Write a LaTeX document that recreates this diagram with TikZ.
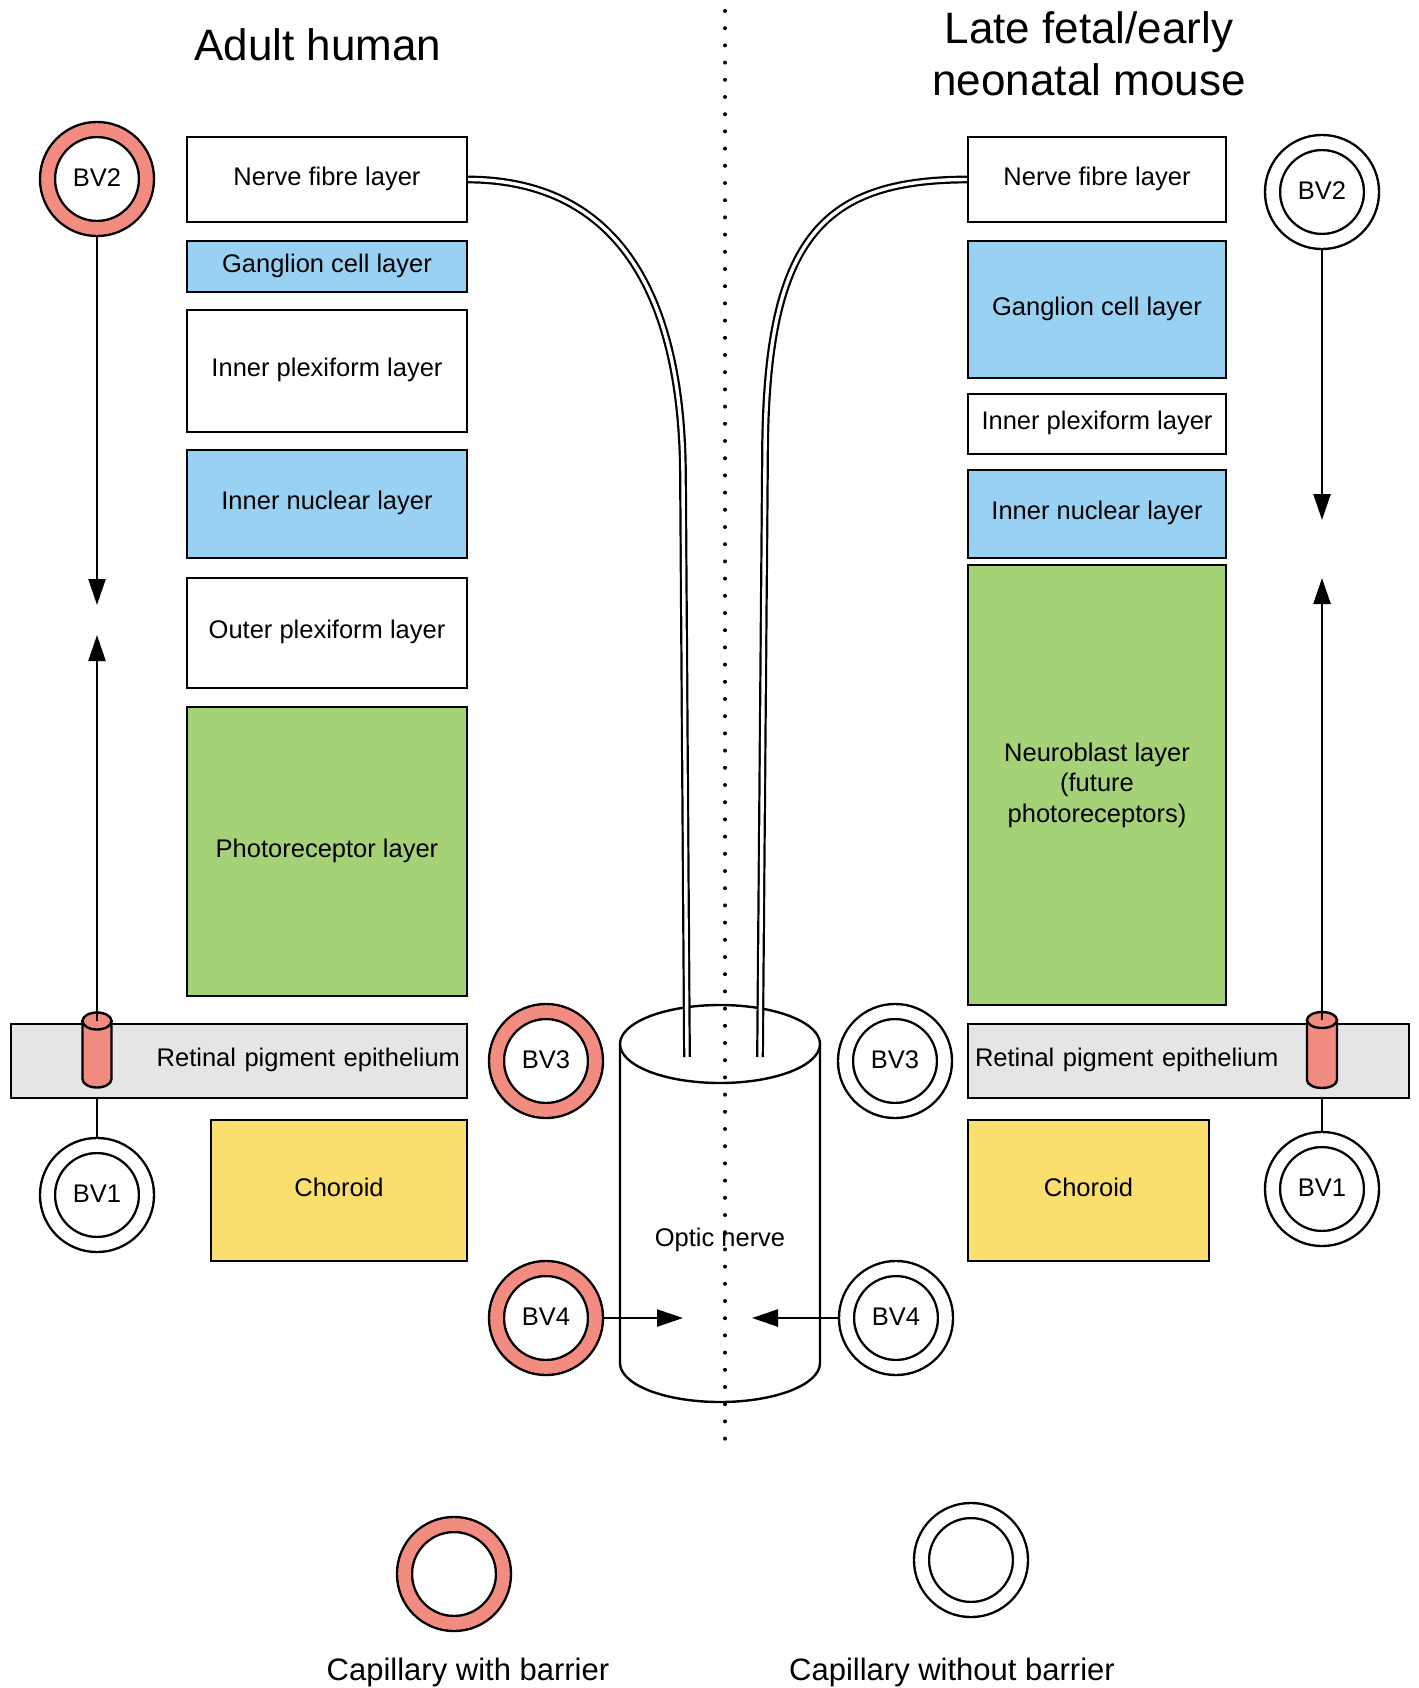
\documentclass[tikz,border=0pt]{standalone}
\usepackage{fontspec}
\setmainfont{Liberation Sans}
\usetikzlibrary{arrows.meta}
\definecolor{barrierred}{RGB}{242,140,128}
\definecolor{layerblue}{RGB}{153,209,243}
\definecolor{layergreen}{RGB}{165,209,119}
\definecolor{layeryellow}{RGB}{250,222,110}
\definecolor{rpegray}{RGB}{229,229,229}
\tikzset{
  layer/.style={
    rectangle, draw=black, line width=2.4pt, fill=white, inner sep=0pt,
    font=\fontsize{25.5}{30.5}\selectfont, align=center,
    text height=18pt, text depth=6.8pt
  },
  barrier/.style={
    circle, draw=black, line width=2.4pt, double=barrierred, double distance=12.6pt,
    fill=white, minimum size=99pt, inner sep=0pt, outer sep=8.7pt,
    font=\fontsize{25.5}{30.5}\selectfont, text height=18pt, text depth=3.8pt
  },
  nobarrier/.style={barrier, double=white},
  link/.style={line width=2.4pt},
  arrow/.style={link, -{Triangle[length=26pt,width=17pt]}},
  fibre/.style={line width=2.2pt, double=white, double distance=3.4pt},
  tube/.style={line width=2.4pt, fill=barrierred},
  dotline/.style={line width=4pt, line cap=round, dash pattern=on 0pt off 17.2pt},
  txt/.style={font=\fontsize{25.5}{30.5}\selectfont, inner sep=0pt}
}
\begin{document}
\begin{tikzpicture}[x=1pt, y=-1pt]
  \useasboundingbox (0,0) rectangle (1418,1688);

  % Titles
  \node[txt, font=\fontsize{44}{53}\selectfont, anchor=base] (title1) at (318,61) {Adult human};
  \node[txt, font=\fontsize{44}{52}\selectfont, align=center, anchor=north] (title2) at (1089,11)
    {Late fetal/early\\neonatal mouse};

  % Adult human layers
  \node[layer, minimum width=280pt, minimum height=85pt] (nfl1) at (327,179.5) {Nerve fibre layer};
  \node[layer, fill=layerblue, minimum width=280pt, minimum height=51pt] (gcl1) at (327,266.5) {Ganglion cell layer};
  \node[layer, minimum width=280pt, minimum height=122pt] (ipl1) at (327,371) {Inner plexiform layer};
  \node[layer, fill=layerblue, minimum width=280pt, minimum height=108pt] (inl1) at (327,504) {Inner nuclear layer};
  \node[layer, minimum width=280pt, minimum height=110pt] (opl1) at (327,633) {Outer plexiform layer};
  \node[layer, fill=layergreen, minimum width=280pt, minimum height=289pt] (prl1) at (327,851.5) {Photoreceptor layer};
  \node[layer, fill=rpegray, minimum width=456pt, minimum height=74pt, text width=442pt, align=right]
    (rpe1) at (239,1061) {Retinal pigment epithelium};
  \node[layer, fill=layeryellow, minimum width=256pt, minimum height=141pt] (cho1) at (339,1190.5) {Choroid};

  % Mouse layers
  \node[layer, minimum width=258pt, minimum height=85pt] (nfl2) at (1097,179.5) {Nerve fibre layer};
  \node[layer, fill=layerblue, minimum width=258pt, minimum height=137pt] (gcl2) at (1097,309.5) {Ganglion cell layer};
  \node[layer, minimum width=258pt, minimum height=60pt] (ipl2) at (1097,424) {Inner plexiform layer};
  \node[layer, fill=layerblue, minimum width=258pt, minimum height=88pt] (inl2) at (1097,514) {Inner nuclear layer};
  \node[layer, fill=layergreen, minimum width=258pt, minimum height=440pt, text height=, text depth=]
    (nbl2) at (1097,785) {Neuroblast layer\\(future\\photoreceptors)};
  \node[layer, fill=rpegray, minimum width=441pt, minimum height=74pt, text width=427pt, align=left]
    (rpe2) at (1188.5,1061) {Retinal pigment epithelium};
  \node[layer, fill=layeryellow, minimum width=241pt, minimum height=141pt] (cho2) at (1088.5,1190.5) {Choroid};

  % Optic nerve
  \draw[link, fill=white] (620,1044) -- (620,1363) arc (180:0:100 and 39) -- (820,1044);
  \draw[link, fill=white] (720,1044) ellipse (100 and 39);
  \node[txt] (onlabel) at (720,1240) {Optic nerve};

  % Nerve fibres
  \coordinate (fib1) at (687,1057);
  \coordinate (fib2) at (760,1057);
  \draw[fibre] (nfl1.east) .. controls (600,180) and (683,270) .. (683,480) -- (fib1);
  \draw[fibre] (nfl2.west) .. controls (820,180) and (765,240) .. (765,460) -- (fib2);

  % Vessels
  \node[barrier] (bv2a) at (97,179) {BV2};
  \node[nobarrier] (bv1a) at (97,1195) {BV1};
  \node[barrier] (bv3a) at (546,1061) {BV3};
  \node[barrier] (bv4a) at (546,1318) {BV4};
  \node[nobarrier] (bv3b) at (895,1061) {BV3};
  \node[nobarrier] (bv4b) at (896,1318) {BV4};
  \node[nobarrier] (bv2b) at (1322,192) {BV2};
  \node[nobarrier] (bv1b) at (1322,1189) {BV1};

  % Tubes through the RPE
  \filldraw[tube] (82.5,1021) -- (82.5,1079) arc (180:0:14.5 and 8.5) -- (111.5,1021) -- cycle;
  \filldraw[tube] (97,1021) ellipse (14.5 and 8.5);
  \filldraw[tube] (1307,1020) -- (1307,1080) arc (180:0:15 and 8) -- (1337,1020) -- cycle;
  \filldraw[tube] (1322,1020) ellipse (15 and 8);
  \coordinate (top1) at (97,1021);
  \coordinate (top2) at (1322,1020);

  % Arrows
  \coordinate (tip1a) at (97,605);
  \coordinate (tip1b) at (97,635);
  \coordinate (tip2a) at (1322,520);
  \coordinate (tip2b) at (1322,578);
  \coordinate (tip4a) at (683,1318);
  \coordinate (tip4b) at (752,1318);
  \draw[arrow] (bv2a) -- (tip1a);
  \draw[arrow] (top1) -- (tip1b);
  \draw[link] (bv1a) -- (bv1a |- rpe1.south);
  \draw[arrow] (bv2b) -- (tip2a);
  \draw[arrow] (top2) -- (tip2b);
  \draw[link] (bv1b) -- (bv1b |- rpe2.south);
  \draw[arrow] (bv4a) -- (tip4a);
  \draw[arrow] (bv4b) -- (tip4b);

  % Key
  \node[barrier] (key1) at (454,1574) {};
  \node[nobarrier] (key2) at (971,1560) {};
  \node[txt, font=\fontsize{31}{37}\selectfont, anchor=base] (keytext1) at (468,1680) {Capillary with barrier};
  \node[txt, font=\fontsize{31}{37}\selectfont, anchor=base] (keytext2) at (952,1680) {Capillary without barrier};

  % Divider
  \draw[dotline] (725,11) -- (725,1448);
\end{tikzpicture}
\end{document}
